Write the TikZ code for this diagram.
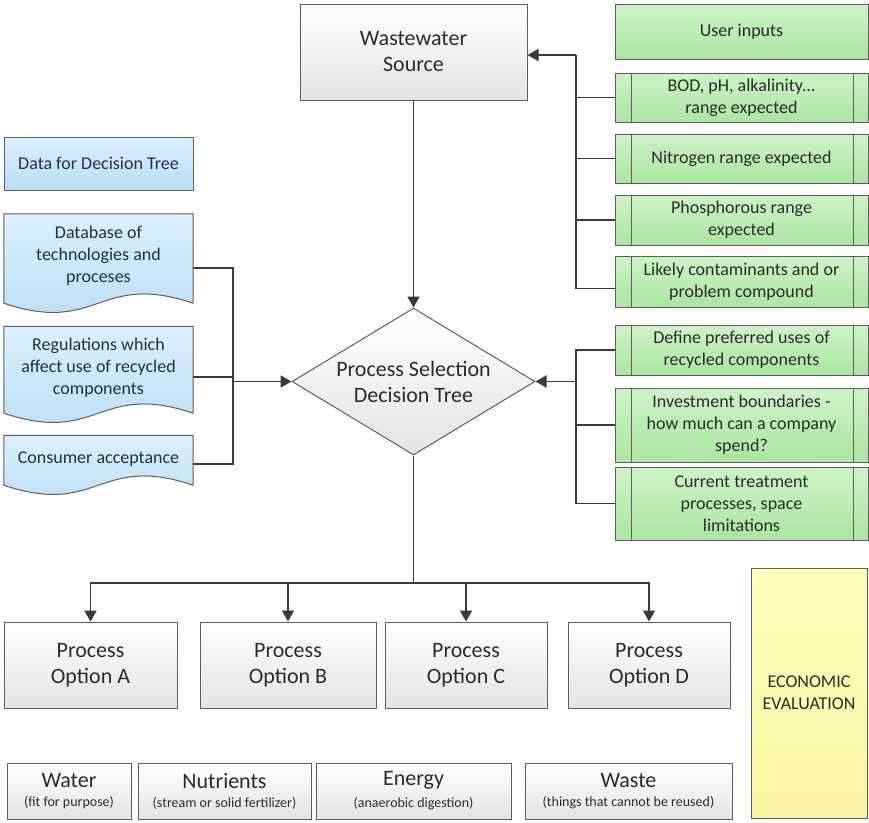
\documentclass[tikz,border=0pt]{standalone}
\usepackage{fontspec}
\setmainfont{Carlito}
\usetikzlibrary{shapes.geometric, arrows.meta, positioning, calc, backgrounds}

\definecolor{wire}{HTML}{3A3A3A}
\definecolor{edge}{HTML}{5E5E5E}
\definecolor{ink}{HTML}{2B2B2B}
\definecolor{blueink}{HTML}{1E3245}
\definecolor{greentop}{HTML}{CDF3C6}
\definecolor{greenbot}{HTML}{ABE6A2}
\definecolor{bluetop}{HTML}{DCF0FC}
\definecolor{bluebot}{HTML}{B7DDF5}
\definecolor{graybot}{HTML}{E4E4E4}
\definecolor{yellowtop}{HTML}{FFFFBE}
\definecolor{yellowbot}{HTML}{F9F6A2}

\newcommand{\bigtext}{\fontsize{22}{26}\selectfont}
\newcommand{\midtext}{\fontsize{18}{22}\selectfont}
\newcommand{\smalltext}{\fontsize{14}{16}\selectfont}

\begin{document}
\begin{tikzpicture}[
    x=1pt, y=-1pt,
    graybox/.style={rectangle, draw=edge, line width=1pt, top color=white, bottom color=graybot, text=ink, align=center, inner sep=0pt},
    decision/.style={diamond, draw=edge, line width=1pt, top color=white, bottom color=graybot, text=ink, align=center, inner sep=0pt, aspect=1.65, minimum width=243pt, minimum height=147pt, font=\bigtext},
    userbox/.style={rectangle, draw=edge, line width=1pt, top color=greentop, bottom color=greenbot, text=ink, align=center, inner sep=0pt, minimum width=253pt, font=\midtext},
    databox/.style={rectangle, text=blueink, align=center, inner sep=0pt, minimum width=189pt, font=\midtext},
    evalbox/.style={rectangle, draw=edge, line width=1pt, top color=yellowtop, bottom color=yellowbot, text=ink, align=center, minimum width=116pt, minimum height=250pt, font=\midtext},
    line/.style={draw=wire, line width=1.9pt},
    arrow/.style={line, -{Triangle[length=11pt,width=12pt]}}
]
    \useasboundingbox (0,0) rectangle (869,822);

    % source and decision tree
    \node[graybox, minimum width=227pt, minimum height=96pt, font=\bigtext] (source) at (413.5,52) {Wastewater\\Source};
    \node[decision] (tree) at (413.5,381.5) {Process Selection\\Decision Tree};

    % user inputs
    \node[userbox, minimum height=55pt] (user) at (741.5,31.5) {User inputs};
    \node[userbox, minimum height=49pt] (bod) at (741.5,97.5) {BOD, pH, alkalinity...\\range expected};
    \node[userbox, minimum height=49pt] (nit) at (741.5,158.5) {Nitrogen range expected};
    \node[userbox, minimum height=50pt] (phos) at (741.5,220) {Phosphorous range\\expected};
    \node[userbox, minimum height=51pt] (cont) at (741.5,281.5) {Likely contaminants and or\\problem compound};
    \node[userbox, minimum height=50pt] (pref) at (741.5,350) {Define preferred uses of\\recycled components};
    \node[userbox, minimum height=74pt] (invest) at (741.5,425) {Investment boundaries -\\how much can a company\\spend?};
    \node[userbox, minimum height=73pt] (curr) at (741.5,503.5) {Current treatment\\processes, space\\limitations};
    \foreach \n in {bod,nit,phos,cont,pref,invest,curr}
        \draw[draw=edge, line width=1pt] ([xshift=17pt]\n.north west) -- ([xshift=17pt]\n.south west)
            ([xshift=-15pt]\n.north east) -- ([xshift=-15pt]\n.south east);

    % data for decision tree
    \node[databox, draw=edge, line width=1pt, top color=bluetop, bottom color=bluebot, minimum height=53pt] (data) at (98.5,163.5) {Data for Decision Tree};
    \node[databox, minimum height=84pt] (dbase) at (98.5,256) {Database of\\technologies and\\proceses};
    \node[databox, minimum height=83pt] (regs) at (98.5,368) {Regulations which\\affect use of recycled\\components};
    \node[databox, minimum height=47pt] (accept) at (98.5,459) {Consumer acceptance};
    \begin{scope}[on background layer]
        \foreach \n/\dy in {dbase/5,regs/3.5,accept/2.5}
            \draw[draw=edge, line width=1pt, top color=bluetop, bottom color=bluebot]
                (\n.north west) -- (\n.north east) -- ([yshift=-\dy pt]\n.south east)
                .. controls +(-95,-32) and +(95,32) .. ([yshift=-\dy pt]\n.south west) -- cycle;
    \end{scope}

    % process options
    \node[graybox, minimum width=173pt, minimum height=86pt, font=\bigtext] (optA) at (90.5,665) {Process\\Option A};
    \node[graybox, minimum width=176pt, minimum height=86pt, font=\bigtext] (optB) at (288,665) {Process\\Option B};
    \node[graybox, minimum width=162pt, minimum height=86pt, font=\bigtext] (optC) at (466,665) {Process\\Option C};
    \node[graybox, minimum width=162pt, minimum height=86pt, font=\bigtext] (optD) at (649,665) {Process\\Option D};
    \node[evalbox] (econ) at (809,693) {ECONOMIC\\EVALUATION};

    % recycled streams
    \node[graybox, minimum width=124pt, minimum height=56pt] (water) at (69,791) {{\bigtext Water}\\[7pt]{\smalltext (fit for purpose)}};
    \node[graybox, minimum width=173pt, minimum height=56pt] (nutr) at (224.5,791) {{\bigtext Nutrients}\\[7pt]{\smalltext (stream or solid fertilizer)}};
    \node[graybox, minimum width=195pt, minimum height=56pt] (energy) at (413.5,791) {{\bigtext Energy}\\[7pt]{\smalltext (anaerobic digestion)}};
    \node[graybox, minimum width=207pt, minimum height=56pt] (waste) at (628.5,791) {{\bigtext Waste}\\[7pt]{\smalltext (things that cannot be reused)}};

    % connectors
    \coordinate (ubus) at (576,55);
    \coordinate (pbus) at (576,381.5);
    \coordinate (dbus) at (233,381.5);
    \coordinate (obus) at (413.5,583);

    \draw[line] ([yshift=-7pt]cont.west) -| (ubus);
    \draw[arrow] (ubus) -- (source.east |- ubus);
    \foreach \n in {bod,nit,phos}
        \draw[line] (\n.west) -- (\n.west -| ubus);
    \draw[line] (pref.west) -| (curr.west -| pbus) -- (curr.west);
    \draw[line] (invest.west) -- (invest.west -| pbus);
    \draw[arrow] (pbus) -- (tree.east);
    \draw[line] ([yshift=-12pt]dbase.east) -| ([yshift=-5pt]accept.east -| dbus) -- ([yshift=-5pt]accept.east);
    \draw[line] ([yshift=-9pt]regs.east) -- ([yshift=-9pt]regs.east -| dbus);
    \draw[arrow] (dbus) -- (tree.west);
    \draw[arrow] (source) -- (tree);
    \draw[line] (tree.south) -- (obus);
    \draw[arrow] (obus) -| (optA.north);
    \draw[arrow] (obus) -| (optB.north);
    \draw[arrow] (obus) -| (optC.north);
    \draw[arrow] (obus) -| (optD.north);
\end{tikzpicture}
\end{document}
